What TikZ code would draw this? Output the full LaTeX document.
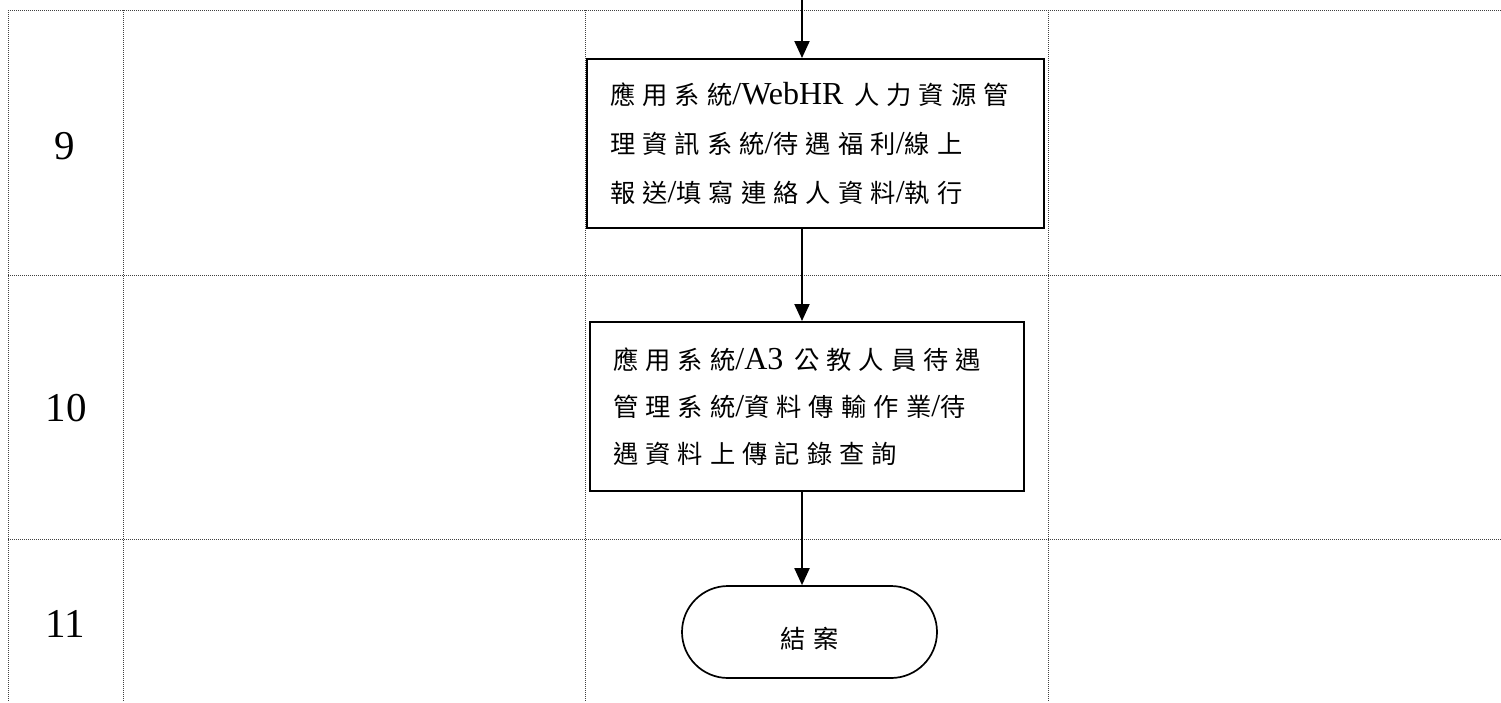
\documentclass[tikz,border=0pt]{standalone}
\usepackage{fontspec}
\setmainfont{Liberation Serif}
\newfontfamily\cjk[Scale=0.79,LetterSpace=28]{Noto Sans CJK TC}
\usetikzlibrary{arrows.meta}
\begin{document}
\begin{tikzpicture}[x=1pt,y=-1pt,
  grid/.style={line width=1pt, black!75, dash pattern=on 1pt off 1pt},
  procbox/.style={draw, line width=2pt, inner xsep=0pt, inner ysep=0pt, align=left},
  term/.style={draw, line width=1.7pt, rounded corners=46pt, minimum width=255pt, minimum height=92pt, font=\fontsize{32}{36}\selectfont, text height=33pt, text depth=0pt},
  flow/.style={line width=2pt, -{Triangle[width=15pt,length=17pt]}},
  num/.style={font=\fontsize{41}{41}\selectfont, inner sep=0pt}]
\useasboundingbox (0,0) rectangle (1501,702);
% grid
\draw[grid] (8,10) -- (1501,10);
\draw[grid] (8,275) -- (1501,275);
\draw[grid] (8,539) -- (1501,539);
\draw[grid] (8,10) -- (8,702);
\draw[grid] (123,10) -- (123,702);
\draw[grid] (585,10) -- (585,702);
\draw[grid] (1048,10) -- (1048,702);
% row numbers
\node[num] (r9) at (65,146) {9};
\node[num] (r10) at (66,408) {10};
\node[num] (r11) at (65,624) {11};
% boxes
\coordinate (top) at (802,0);
\node[procbox, font=\fontsize{32}{49}\selectfont, minimum width=457pt, minimum height=169pt, text width=411pt] (b1) at (815.5,143.5)
  {{\cjk 應用系統}/WebHR~{\cjk 人力資源管}\\
   {\cjk 理資訊系統}/{\cjk 待遇福利}/{\cjk 線上}\\
   {\cjk 報送}/{\cjk 填寫連絡人資料}/{\cjk 執行}};
\node[procbox, font=\fontsize{32}{47}\selectfont, minimum width=434pt, minimum height=169pt, text width=388pt] (b2) at (807,406.5)
  {{\cjk 應用系統}/A3~{\cjk 公教人員待遇}\\
   {\cjk 管理系統}/{\cjk 資料傳輸作業}/{\cjk 待}\\
   {\cjk 遇資料上傳記錄查詢}};
\node[term] (t) at (809.5,632) {{\cjk 結案}\hspace{12pt}};
% connectors
\draw[flow] (top) -- (top |- b1.north);
\draw[flow] (b1.south -| top) -- (b2.north -| top);
\draw[flow] (b2.south -| top) -- (t.north -| top);
\end{tikzpicture}
\end{document}
